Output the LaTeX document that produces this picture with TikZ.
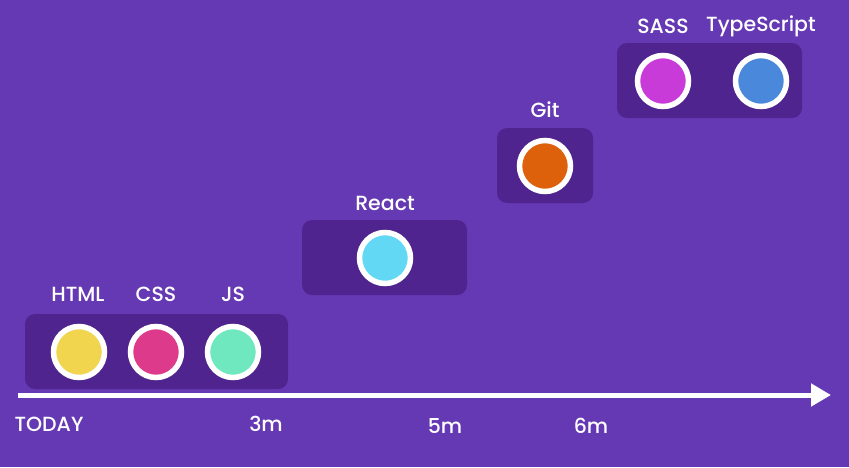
\documentclass[tikz,border=0pt]{standalone}
\usepackage{fontspec}
\setmainfont{Poppins}[UprightFont=* Medium]
\usetikzlibrary{arrows.meta}

\definecolor{bgpurple}{RGB}{101,57,179}
\definecolor{boxpurple}{RGB}{80,36,142}
\definecolor{htmlyellow}{RGB}{242,213,78}
\definecolor{csspink}{RGB}{221,58,140}
\definecolor{jsgreen}{RGB}{111,232,191}
\definecolor{reactblue}{RGB}{98,216,245}
\definecolor{gitorange}{RGB}{221,96,10}
\definecolor{sassmagenta}{RGB}{201,59,217}
\definecolor{tsblue}{RGB}{74,136,219}

\tikzset{
  stage/.style={fill=boxpurple, rounded corners=10pt},
  skill/.style={circle, draw=white, line width=5.5pt, inner sep=0pt, minimum size=51pt},
  lbl/.style={text=white, font=\fontsize{20.5}{24}\selectfont},
}

\begin{document}
\begin{tikzpicture}[x=1pt, y=-1pt]
\fill[bgpurple] (0,0) rectangle (849,467);

% stage boxes
\fill[stage] (25,314) rectangle (288,389);
\fill[stage] (302,220) rectangle (467,295);
\fill[stage] (497,128) rectangle (593,203);
\fill[stage] (617,43) rectangle (802,118);

% time line
\coordinate (start) at (18,395);
\coordinate (end) at (831,395);
\draw[white, line width=5pt, -{Triangle[length=20pt,width=22pt]}] (start) -- (end);

% skills
\node[skill, fill=htmlyellow] (html) at (79,352) {};
\node[skill, fill=csspink] (css) at (156,352) {};
\node[skill, fill=jsgreen] (js) at (233,352) {};
\node[skill, fill=reactblue] (react) at (385,258) {};
\node[skill, fill=gitorange] (git) at (545,166) {};
\node[skill, fill=sassmagenta] (sass) at (663,81) {};
\node[skill, fill=tsblue] (ts) at (761,81) {};

\node[lbl] (htmllbl) at (78,294) {HTML};
\node[lbl] (csslbl) at (156,294) {CSS};
\node[lbl] (jslbl) at (233,294) {JS};
\node[lbl] (reactlbl) at (385,203) {React};
\node[lbl] (gitlbl) at (545,110) {Git};
\node[lbl] (sasslbl) at (663,26) {SASS};
\node[lbl] (tslbl) at (761,26) {TypeScript};

% months
\node[lbl] (today) at (49,424) {TODAY};
\node[lbl] (m3) at (266,424) {3m};
\node[lbl] (m5) at (445,426) {5m};
\node[lbl] (m6) at (591,426) {6m};

\end{tikzpicture}
\end{document}
